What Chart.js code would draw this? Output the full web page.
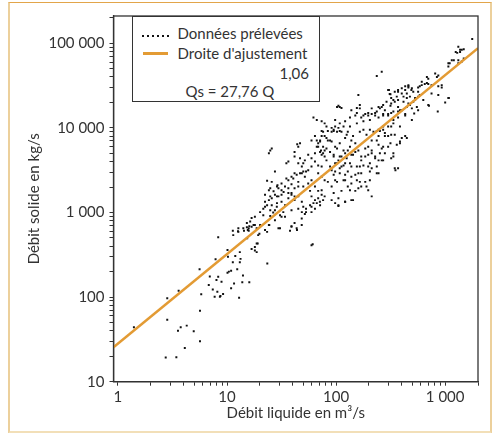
<!DOCTYPE html>
<html>
<head>
<meta charset="utf-8">
<script src="https://cdn.jsdelivr.net/npm/chart.js@4.4.1/dist/chart.umd.min.js"></script>
<style>
  body { margin: 0; background: #fff; }
  #wrap { position: relative; width: 495px; height: 433px; overflow: hidden; font-family: "Lato", sans-serif; color: #333; }
  #frame { position: absolute; left: 8px; top: 2px; width: 480px; height: 428px;
           border-left: 2px solid #ecd09c; border-top: 1.5px solid #e2a54a; border-bottom: 3px solid #f2dfb8; border-right: 2px solid #ecd09c; }
  canvas { position: absolute; left: 0; top: 0; }
  #legend { position: absolute; left: 131.5px; top: 16px; width: 186px; height: 84px;
            border: 1.3px solid #333; background: #fff; font-size: 15px; }
  #legend span { position: absolute; white-space: nowrap; }
  .dots { left: 9px; top: 18px; width: 28px; height: 2px;
          background: repeating-linear-gradient(90deg, #111 0 2px, transparent 2px 5px); }
  .orange { left: 10px; top: 35px; width: 25px; border-top: 3px solid #e39b34; }
</style>
</head>
<body>
<div id="wrap">
  <div id="frame"></div>
  <canvas id="debitChart" width="495" height="433"></canvas>
  <div id="legend">
    <span class="dots"></span>
    <span style="left:45px; top:7px;">Données prélevées</span>
    <span class="orange"></span>
    <span style="left:45px; top:27px;">Droite d'ajustement</span>
    <span style="left:147px; top:47px;">1,06</span>
    <span style="left:53px; top:65px;">Qs = 27,76 Q</span>
  </div>
</div>
<script>
// Débit liquide (m3/s) / débit solide (kg/s)
const debitLiquide = [
  1.4, 2.83, 2.83, 3.6, 3.76, 3.55, 4.27, 4.95, 5.65, 4.1, 2.74, 3.43, 5.65, 5.6, 5.8, 8.3, 7.85, 6.95, 6.8, 7.4,
  7.7, 8.3, 8.0, 8.15, 8.7, 8.9, 9.2, 10.1, 10.2, 10.4, 10.1, 10.9, 11.6, 10.9, 11.9, 11.3, 12.4, 13.1, 13.3, 13.1,
  14, 13.8, 12.9, 11.3, 12.6, 14.3, 15.3, 12.7, 14.1, 15.2, 12.7, 15.8, 11.4, 8.6,
  16.0, 23.4, 61, 16.8, 18, 18.7, 19.1, 19.3, 18, 16.8, 16, 15.5, 23.3, 24.4, 24.9, 27.5, 28.6, 29.6, 31.6, 37.8,
  39, 41.6, 43.8, 48.4, 48.4, 53, 59.5, 66.5, 71, 98, 105, 121, 138, 21.5, 22.3, 27.5, 32.8,
  23.3, 25.7, 28.7, 24.2, 24.9, 26.7, 29.6, 31.6, 34, 36.5, 39, 41.6, 45, 22.3, 27.5, 29.6, 31.6, 36.5, 39, 24.2,
  25.7, 22.3, 23.3, 25.7, 28.7, 31.6, 34, 36.5, 41.6, 45, 48.5, 50, 53, 57.7, 62, 64, 68.5, 73.7, 76, 71.3,
  64, 59.5, 51.7, 48.5, 45, 39, 34, 30.6, 26.5, 24.9, 21.5, 20.1, 18, 16.8, 16.3, 15.2, 17.5, 18.7, 20.1, 15.8,
  22.3, 24.2, 19.8, 30.6, 39, 43.5, 59.5, 18.7, 18,
  24.2, 24.9, 25.7, 35, 45, 46.7, 41.6, 45, 48.5, 50, 46.7, 43.5, 51.7, 55.5, 59.5, 64, 64, 66.5, 71.3, 73.7,
  76, 78.5, 81.6, 88, 91, 68.5, 73.7, 78.5, 84, 91, 98, 59.5, 55.5, 64, 68.5, 73.7, 57.7, 50, 45, 40.5,
  36.5, 31.6, 29, 33, 24.9, 28.7, 39, 41.6, 59.5, 78.5, 62, 66.5, 73.7, 78.5, 81.6, 91, 98, 105, 102, 112,
  121, 128, 138, 150, 108, 98, 91, 84, 78.5, 71.3, 64, 59.5, 95, 84, 73.7, 68.5, 78.5, 88, 95, 105,
  112, 121, 128, 138, 150, 121, 108, 98, 102,
  27.5, 36.5, 41.6, 44, 46.7, 50, 51.7, 55.5, 68.5, 72.7, 76, 81.6, 59.5, 68.5, 73.7, 53, 48.5, 41.6, 39, 35,
  81.6, 88, 91, 76, 73.7, 66.5, 71.3,
  1770, 1320, 1370, 1480, 1250, 1420, 1320, 1150, 1070, 810, 840, 700, 680, 610, 565, 865, 930, 1080, 1000, 710,
  262, 236, 460, 490, 430, 400, 370, 360, 335, 320, 305, 310, 315, 280, 262, 245, 160, 165, 105, 108,
  138, 155, 170, 185, 197, 212, 228, 245, 270, 300, 320, 370, 400, 445, 475, 530, 565, 415, 370, 335,
  320, 270, 245, 280, 300, 345, 385, 430, 400, 360, 245, 236, 212, 197, 212, 228, 245, 262, 236, 197,
  212, 185, 170, 165, 160, 155, 138, 138, 128, 121, 112, 117, 128, 150, 170, 185, 197, 212, 370, 350,
  320, 335, 280, 300, 270,
  102, 112, 155, 165, 300, 315, 345, 370, 400, 430, 460, 320, 345, 370, 415, 445, 290, 270, 252, 236,
  212, 197, 178, 150, 134, 121, 108, 98, 117, 134, 155, 178, 204, 228, 270, 300, 335, 385, 430, 370,
  335, 300, 270, 236, 204, 178, 385, 95, 108,
  125, 143, 165, 190, 220, 252, 280, 320, 385, 445, 262, 245, 212, 185, 160, 134, 117, 102, 95, 108,
  125, 143, 170, 197, 228, 270, 252, 335, 98, 117, 134, 155, 178, 204, 236, 245, 204, 170, 150, 108,
  95, 102, 121, 138, 165, 204, 190, 160, 134, 112, 95, 105, 91, 121, 143, 105, 345, 315,
  1370, 1290, 1420, 1480, 1320, 1200, 1100, 1070, 865, 680, 610, 650, 700, 585, 930, 750, 865, 750, 565, 495,
  460, 510, 445, 475, 530, 585, 630, 700, 1070, 510, 550, 460,
  495, 565, 520, 495, 855, 430
];
const debitSolide = [
  44, 97, 54, 119, 44, 40, 46, 39.5, 30, 25, 19.3, 19.4, 69, 213, 108, 510, 280, 175, 139, 123,
  101, 174, 159, 116, 103, 152, 109, 360, 300, 200, 194, 205, 145, 127, 305, 258, 213, 340, 283, 258,
  180, 150, 98, 610, 600, 610, 495, 650, 650, 670, 590, 610, 540, 101,
  150, 250, 420, 370, 355, 340, 430, 540, 710, 680, 690, 620, 590, 710, 910, 1060, 1170, 650, 890, 610,
  690, 750, 620, 710, 850, 1010, 1170, 1290, 1340, 1290, 1190, 1340, 1400, 930, 1170, 810, 1010,
  2370, 2300, 2030, 1830, 1930, 1780, 1930, 1830, 2030, 1930, 2150, 1930, 2030, 1620, 1620, 1550, 1620, 1700, 1620, 1400,
  1470, 1340, 1220, 1220, 1290, 1340, 1220, 1470, 1400, 1550, 1340, 1170, 1110, 1220, 1290, 1400, 1470, 1620, 1400, 1220,
  1110, 1010, 960, 1010, 1110, 1060, 890, 930, 1000, 1060, 1110, 1010, 890, 860, 780, 750, 710, 650, 710, 650,
  620, 710, 560, 650, 680, 650, 410, 430, 390,
  5000, 5400, 5700, 3820, 6000, 6600, 4600, 3820, 3500, 3050, 2900, 2800, 2650, 3150, 3500, 4000, 5000, 6000, 5200, 4800,
  6000, 4600, 4130, 3500, 3150, 2900, 2650, 2400, 2300, 2030, 2400, 2400, 2200, 2030, 1800, 1830, 1800, 2030, 2300, 2520,
  2400, 2200, 2100, 1750, 1550, 1550, 1700, 1550, 1550, 1550, 13300, 12400, 12000, 11300, 10400, 10000, 12400, 10000, 9000, 9000,
  7600, 9000, 7100, 6600, 6600, 6000, 6900, 7100, 8000, 7100, 8000, 7100, 9200, 9200, 9200, 6000, 5400, 5200, 4600, 4130,
  4600, 5000, 5400, 4800, 5200, 3820, 3330, 3050, 3820,
  3050, 4000, 5200, 6400, 4380, 3820, 4130, 4800, 6600, 5400, 5000, 5700, 4380, 3600, 3500, 3050, 2900, 2900, 2650, 2520,
  7600, 7100, 9000, 9000, 8000, 7100, 6900,
  112000, 91000, 84000, 85000, 79000, 61000, 58000, 63000, 58000, 44000, 40000, 38000, 34000, 32000, 30000, 31000, 30000, 22500, 20000, 18300,
  46000, 41000, 30000, 28000, 28000, 25500, 26800, 23400, 21300, 19400, 28000, 25200, 18300, 16200, 17700, 17700, 24400, 17000, 18300, 17700,
  16200, 15000, 13300, 14600, 14000, 14600, 15000, 13300, 14600, 14000, 15000, 15600, 16200, 17700, 18600, 21300, 23400, 20400, 17700, 12400,
  10400, 10400, 9500, 8700, 8000, 8300, 6600, 8000, 7600, 6300, 8000, 7100, 7100, 6000, 5000, 4600, 4130, 4130, 2900, 3500,
  3330, 4600, 4130, 3500, 2900, 2400, 2650, 3500, 3050, 2800, 3500, 2400, 2030, 1800, 2030, 2300, 1830, 1550, 3330, 3150,
  4380, 5000, 5000, 6000, 6000,
  17700, 17200, 17200, 18600, 28000, 25000, 26800, 28000, 29400, 31000, 31800, 22500, 20400, 21300, 23400, 22500, 20400, 18600, 17000, 15600,
  17000, 15000, 14000, 14000, 13300, 12000, 11300, 10400, 10400, 10400, 11300, 12000, 12400, 14000, 14000, 14600, 15600, 16200, 14600, 13300,
  11300, 10400, 9500, 9200, 9500, 9500, 10400, 9500, 9200,
  8300, 8000, 9000, 8300, 9000, 9200, 8000, 8300, 6900, 7600, 5700, 6300, 5400, 5700, 5400, 6000, 5400, 5700, 4800, 4600,
  4380, 4800, 4600, 4800, 4380, 4130, 5000, 4600, 3820, 3600, 3820, 3500, 3600, 3820, 3500, 2900, 3050, 2900, 2800, 2900,
  2800, 2300, 2400, 2200, 2300, 2400, 2030, 1930, 1830, 1800, 1700, 1470, 1400, 1340, 1400, 1220, 3330, 6600,
  79000, 77000, 84000, 66000, 63000, 63000, 58000, 53000, 41500, 40000, 35000, 33000, 33000, 31000, 32000, 32000, 24400, 25500, 26800, 29400,
  31000, 26800, 25500, 23400, 22500, 24400, 21300, 18600, 22500, 20400, 17700, 19400,
  17000, 16200, 14800, 12400, 15600, 14000
];
// Droite d'ajustement Qs = 27,76 Q^1,06 (extrémités lues)
const droiteQ = [0.91, 2000];
const droiteQs = [25.5, 87600];

const xMajor = [1, 10, 100, 1000];
const yMajor = [10, 100, 1000, 10000, 100000];

function withMinor(major, max) {
  const out = [];
  major.forEach(m => {
    for (let k = 1; k <= 9; k++) if (m * k <= max) out.push(m * k);
  });
  return out;
}
function fmt(v) {
  return String(v).replace(/\B(?=(\d{3})+(?!\d))/g, " ");
}

const points = debitLiquide.map((q, i) => ({ x: q, y: debitSolide[i] }));
const fitLine = droiteQ.map((q, i) => ({ x: q, y: droiteQs[i] }));

const boxPlugin = {
  id: "box",
  afterDraw(chart) {
    const { ctx, chartArea: a } = chart;
    ctx.save();
    ctx.strokeStyle = "#333";
    ctx.lineWidth = 1.3;
    ctx.strokeRect(a.left, a.top, a.right - a.left, a.bottom - a.top);
    ctx.restore();
  }
};

const font = { family: "Lato", size: 15 };

new Chart(document.getElementById("debitChart").getContext("2d"), {
  type: "scatter",
  data: {
    datasets: [
      {
        label: "Droite d'ajustement",
        type: "line",
        data: fitLine,
        borderColor: "#e39b34",
        borderWidth: 2.5,
        pointRadius: 0,
        fill: false,
        order: 0
      },
      {
        label: "Données prélevées",
        data: points,
        pointStyle: "rect",
        pointRadius: 1.4,
        backgroundColor: "#111",
        borderWidth: 0,
        order: 1
      }
    ]
  },
  options: {
    responsive: false,
    animation: false,
    layout: { padding: { left: 13.5, right: 17, top: 16, bottom: 1.3 } },
    plugins: { legend: { display: false }, tooltip: { enabled: false } },
    scales: {
      x: {
        type: "logarithmic",
        min: 0.91,
        max: 2000,
        afterBuildTicks: s => { s.ticks = withMinor(xMajor, 2000).map(v => ({ value: v })); },
        afterFit: s => { s.height = 50; },
        border: { color: "#333", width: 1.3 },
        grid: { drawOnChartArea: false, tickLength: 4, color: "#333" },
        ticks: {
          autoSkip: false, maxRotation: 0, padding: 2, color: "#333", font,
          callback: v => xMajor.includes(v) ? fmt(v) : ""
        },
        title: { display: true, text: "Débit liquide en m³/s", color: "#333", font, padding: { top: 0, bottom: 9.7 } }
      },
      y: {
        type: "logarithmic",
        min: 10,
        max: 210000,
        afterBuildTicks: s => { s.ticks = withMinor(yMajor, 210000).map(v => ({ value: v })); },
        afterFit: s => { s.width = 100; },
        border: { color: "#333", width: 1.3 },
        grid: { drawOnChartArea: false, tickLength: 4, color: "#333" },
        ticks: {
          autoSkip: false, padding: 5, color: "#333", font,
          callback: v => yMajor.includes(v) ? fmt(v) : ""
        },
        title: { display: true, text: "Débit solide en kg/s", color: "#333", font, padding: { top: 11.5, bottom: 0 } }
      }
    }
  },
  plugins: [boxPlugin]
});
</script>
</body>
</html>
